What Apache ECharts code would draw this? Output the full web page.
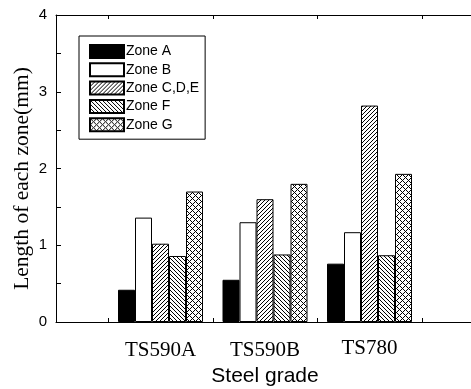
<!DOCTYPE html>
<html>
<head>
<meta charset="utf-8">
<script src="https://cdn.jsdelivr.net/npm/echarts@6/dist/echarts.min.js"></script>
<style>
  html, body { margin: 0; padding: 0; background: #fff; }
  #chart { width: 471px; height: 389px; }
</style>
</head>
<body>
<div id="chart"></div>
<script>
// Steel grades along the x axis
const grades = ['TS590A', 'TS590B', 'TS780'];
// Zone names (legend order)
const zones = ['Zone A', 'Zone B', 'Zone C,D,E', 'Zone F', 'Zone G'];
// Length of each zone (mm), one array per zone, ordered by grade
const zoneA = [0.42, 0.55, 0.76];
const zoneB = [1.36, 1.30, 1.17];
const zoneCDE = [1.02, 1.60, 2.82];
const zoneF = [0.86, 0.88, 0.87];
const zoneG = [1.70, 1.80, 1.93];
// Y axis tick labels
const yTicks = [0, 1, 2, 3, 4];

const zoneValues = [zoneA, zoneB, zoneCDE, zoneF, zoneG];

// Build a small repeating hatch tile; test(x, y) decides which pixels are ink
function hatch(size, test) {
  const c = document.createElement('canvas');
  c.width = size; c.height = size;
  const ctx = c.getContext('2d');
  ctx.fillStyle = '#fff';
  ctx.fillRect(0, 0, size, size);
  ctx.fillStyle = '#000';
  for (let y = 0; y < size; y++) {
    for (let x = 0; x < size; x++) {
      if (test(x, y)) ctx.fillRect(x, y, 1, 1);
    }
  }
  return { image: c, repeat: 'repeat' };
}

const fills = [
  '#000',
  '#fff',
  hatch(4, (x, y) => (x + y) % 4 === 0),                       // "/" lines
  hatch(4, (x, y) => ((x - y) % 4 + 4) % 4 === 0),             // "\" lines
  hatch(6, (x, y) => (x + y) % 6 === 0 || ((x - y) % 6 + 6) % 6 === 0) // cross-hatch
];

// grades sit at x = 1, 2, 3 on a 0..4 axis
const gradePos = grades.map((g, i) => i + 1);

const series = zones.map((name, k) => ({
  name: name,
  type: 'bar',
  barWidth: 17,
  barGap: '0%',
  data: zoneValues[k].map((v, i) => [gradePos[i], v]),
  itemStyle: { color: fills[k], borderColor: '#000', borderWidth: 1 },
  emphasis: { disabled: true }
}));

const chart = echarts.init(document.getElementById('chart'), null, { renderer: 'canvas' });

const serif = '"Liberation Serif", "Times New Roman", serif';
const sans = '"Liberation Sans", Arial, sans-serif';

chart.setOption({
  animation: false,
  backgroundColor: '#fff',
  grid: { left: 56, top: 15, width: 418, height: 307, containLabel: false, outerBoundsMode: 'none' },
  legend: {
    orient: 'vertical',
    left: 79,
    top: 36,
    padding: [8, 6, 7, 10],
    itemWidth: 34,
    itemHeight: 13,
    itemGap: 3.3,
    borderColor: '#000',
    borderWidth: 1,
    icon: 'rect',
    textStyle: { fontFamily: sans, fontSize: 14, color: '#000', padding: [0, 0, 0, -3] },
    data: zones
  },
  xAxis: [
    {
      type: 'value',
      min: 0,
      max: 4,
      interval: 1,
      position: 'bottom',
      name: 'Steel grade',
      nameLocation: 'middle',
      nameGap: 43,
      nameTextStyle: { fontFamily: sans, fontSize: 21, color: '#000' },
      axisLine: { show: true, lineStyle: { color: '#000', width: 1 } },
      axisTick: { show: true, inside: true, length: 4, customValues: [0.5, 1.5, 2.5, 3.5], lineStyle: { color: '#000' } },
      axisLabel: {
        customValues: gradePos,
        margin: 18,
        fontFamily: serif,
        fontSize: 21,
        color: '#000',
        formatter: (v) => {
          const i = Math.round(v) - 1;
          // the last grade label sits a little higher than the others
          return i === grades.length - 1 ? '{up|' + grades[i] + '}' : (grades[i] || '');
        },
        rich: {
          up: { fontFamily: serif, fontSize: 21, color: '#000', lineHeight: 16 }
        }
      },
      splitLine: { show: false }
    },
    {
      type: 'value',
      min: 0,
      max: 4,
      position: 'top',
      axisLine: { show: true, lineStyle: { color: '#000', width: 1 } },
      axisTick: { show: true, inside: true, length: 4, customValues: [0.5, 1.5, 2.5, 3.5], lineStyle: { color: '#000' } },
      axisLabel: { show: false },
      splitLine: { show: false }
    }
  ],
  yAxis: {
    type: 'value',
    min: yTicks[0],
    max: yTicks[yTicks.length - 1],
    interval: 1,
    name: 'Length of each zone(mm)',
    nameLocation: 'middle',
    nameMoveOverlap: false,
    nameGap: 23,
    nameTextStyle: { fontFamily: serif, fontSize: 21.5, color: '#000', padding: [0, 20, 0, 0] },
    axisLine: { show: true, lineStyle: { color: '#000', width: 1 } },
    axisTick: { show: true, inside: true, length: 5, lineStyle: { color: '#000' } },
    minorTick: { show: true, splitNumber: 2, length: 5, lineStyle: { color: '#000' } },
    axisLabel: { margin: 9, fontFamily: sans, fontSize: 15, color: '#000' },
    splitLine: { show: false }
  },
  series: series
});
</script>
</body>
</html>
